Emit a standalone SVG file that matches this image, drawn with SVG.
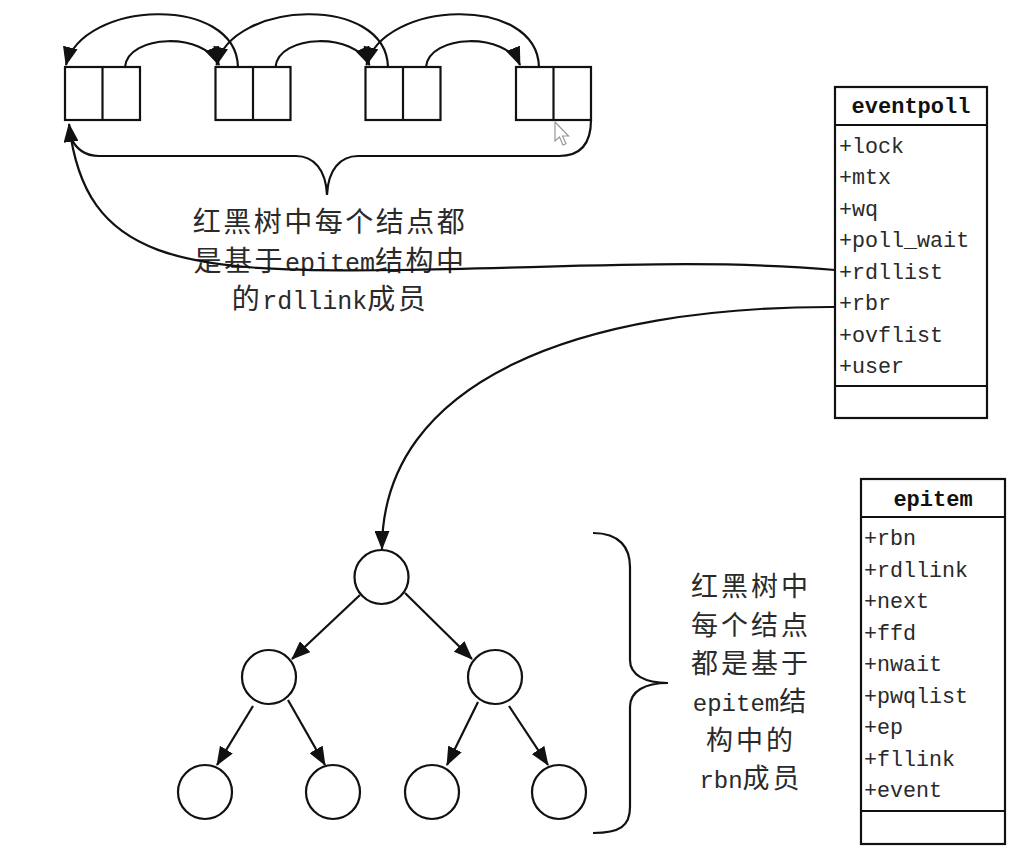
<svg xmlns="http://www.w3.org/2000/svg" width="1024" height="863" viewBox="0 0 1024 863">
<style>
  .ln{fill:none;stroke:#111;stroke-width:2.2}
  .box{fill:#fff;stroke:#111;stroke-width:2.2}
  .mem{font-family:"Liberation Mono",monospace;font-size:21.7px;fill:#2a2a2a}
  .hdr{font-family:"Liberation Mono",monospace;font-size:22px;font-weight:bold;fill:#111}
  .cjk{font-family:"Noto Sans CJK SC",sans-serif;fill:#2a2a2a}
  .lat{font-family:"Liberation Mono","Noto Sans CJK SC",monospace;letter-spacing:0}
</style>
<defs>
  <marker id="arr" viewBox="0 0 19 15" refX="18" refY="7.5" markerWidth="19" markerHeight="15" markerUnits="userSpaceOnUse" orient="auto">
    <path d="M0,0 L19,7.5 L0,15 z" fill="#111"/>
  </marker>
</defs>
<rect width="1024" height="863" fill="#fff"/>

<g id="list">
  <g id="n1"><rect class="box" x="65" y="67" width="75" height="53"/><line class="ln" x1="102.5" y1="67" x2="102.5" y2="120"/></g>
  <g id="n2"><rect class="box" x="215.5" y="67" width="75" height="53"/><line class="ln" x1="253" y1="67" x2="253" y2="120"/></g>
  <g id="n3"><rect class="box" x="365.5" y="67" width="75" height="53"/><line class="ln" x1="403" y1="67" x2="403" y2="120"/></g>
  <g id="n4"><rect class="box" x="516" y="67" width="75" height="53"/><line class="ln" x1="553.5" y1="67" x2="553.5" y2="120"/></g>
</g>

<g id="eventpoll">
  <rect class="box" x="835" y="87" width="152" height="331"/>
  <line class="ln" x1="835" y1="125" x2="987" y2="125"/>
  <line class="ln" x1="835" y1="386" x2="987" y2="386"/>
  <text class="hdr" x="911" y="113" text-anchor="middle">eventpoll</text>
  <text class="mem" x="839" y="152.5">+lock</text>
  <text class="mem" x="839" y="184">+mtx</text>
  <text class="mem" x="839" y="215.5">+wq</text>
  <text class="mem" x="839" y="247">+poll_wait</text>
  <text class="mem" x="839" y="278.5">+rdllist</text>
  <text class="mem" x="839" y="310">+rbr</text>
  <text class="mem" x="839" y="341.5">+ovflist</text>
  <text class="mem" x="839" y="373">+user</text>
</g>

<g id="epitem">
  <rect class="box" x="861" y="479" width="144" height="365"/>
  <line class="ln" x1="861" y1="517" x2="1005" y2="517"/>
  <line class="ln" x1="861" y1="811" x2="1005" y2="811"/>
  <text class="hdr" x="933" y="506" text-anchor="middle">epitem</text>
  <text class="mem" x="864" y="545">+rbn</text>
  <text class="mem" x="864" y="576.5">+rdllink</text>
  <text class="mem" x="864" y="608">+next</text>
  <text class="mem" x="864" y="639.5">+ffd</text>
  <text class="mem" x="864" y="671">+nwait</text>
  <text class="mem" x="864" y="702.5">+pwqlist</text>
  <text class="mem" x="864" y="734">+ep</text>
  <text class="mem" x="864" y="765.5">+fllink</text>
  <text class="mem" x="864" y="797">+event</text>
</g>

<g id="tree">
  <circle class="box" cx="381.5" cy="577" r="27"/>
  <circle class="box" cx="269" cy="677" r="27"/>
  <circle class="box" cx="495" cy="677" r="27"/>
  <circle class="box" cx="205" cy="792" r="27"/>
  <circle class="box" cx="333" cy="792" r="27"/>
  <circle class="box" cx="432" cy="792" r="27"/>
  <circle class="box" cx="559" cy="792" r="27"/>
</g>

<g id="label-list" class="cjk" font-size="28" text-anchor="middle" letter-spacing="2.5">
  <text x="330" y="232">红黑树中每个结点都</text>
  <text x="330" y="271">是基于<tspan class="lat" font-size="25">epitem</tspan>结构中</text>
  <text x="330" y="309">的<tspan class="lat" font-size="25">rdllink</tspan>成员</text>
</g>

<g id="label-tree" class="cjk" font-size="27" text-anchor="middle" letter-spacing="3">
  <text x="751" y="596">红黑树中</text>
  <text x="751" y="634.5">每个结点</text>
  <text x="751" y="673">都是基于</text>
  <text x="751" y="711"><tspan class="lat" font-size="24">epitem</tspan>结</text>
  <text x="751" y="749.5">构中的</text>
  <text x="751" y="788"><tspan class="lat" font-size="24">rbn</tspan>成员</text>
</g>

<g id="connectors">
  <!-- forward small arcs -->
  <path class="ln" marker-end="url(#arr)" d="M125,67 C128,34 205,32 219,65"/>
  <path class="ln" marker-end="url(#arr)" d="M275.5,67 C278.5,34 355.5,32 369.5,65"/>
  <path class="ln" marker-end="url(#arr)" d="M426,67 C429,34 506,32 520,65"/>
  <!-- backward big arcs -->
  <path class="ln" marker-end="url(#arr)" d="M238,67 C236,-6 82,0 66,65"/>
  <path class="ln" marker-end="url(#arr)" d="M388,67 C386,-6 232,0 216.5,65"/>
  <path class="ln" marker-end="url(#arr)" d="M539,67 C537,-6 383,0 366.5,65"/>
  <!-- brace under list -->
  <path class="ln" d="M591,120 C591,145 580,156 559,156 L358,156 C340,156 328,170 327,195 C326,170 314,156 296,156 L99,156 C86,156 76,150 70,136"/>
  <!-- rdllist to list head -->
  <path class="ln" marker-end="url(#arr)" d="M835,270 C700,258 560,268 400,270 C180,273 85,262 69,124"/>
  <!-- rbr to tree root -->
  <path class="ln" marker-end="url(#arr)" d="M835,307 C580,306 382,380 382,549"/>
  <!-- tree edges -->
  <line class="ln" marker-end="url(#arr)" x1="360" y1="595" x2="292" y2="659"/>
  <line class="ln" marker-end="url(#arr)" x1="405" y1="593" x2="472" y2="659"/>
  <line class="ln" marker-end="url(#arr)" x1="253" y1="706" x2="217" y2="765"/>
  <line class="ln" marker-end="url(#arr)" x1="288" y1="700" x2="325" y2="765"/>
  <line class="ln" marker-end="url(#arr)" x1="478" y1="702" x2="447" y2="765"/>
  <line class="ln" marker-end="url(#arr)" x1="509" y1="706" x2="548" y2="765"/>
  <!-- brace right of tree -->
  <path class="ln" d="M593,533 C620,533 630,548 630,567 L630,660 C630,675 645,683 668,683 C645,683 630,691 630,707 L630,807 C630,826 620,833 593,833"/>
</g>

<g id="cursor">
  <path d="M555,122 L555,141 L559.5,137 L563,145 L566,143.8 L562.5,136 L568.5,136 Z" fill="#fff" stroke="#999" stroke-width="1.2"/>
</g>
</svg>
